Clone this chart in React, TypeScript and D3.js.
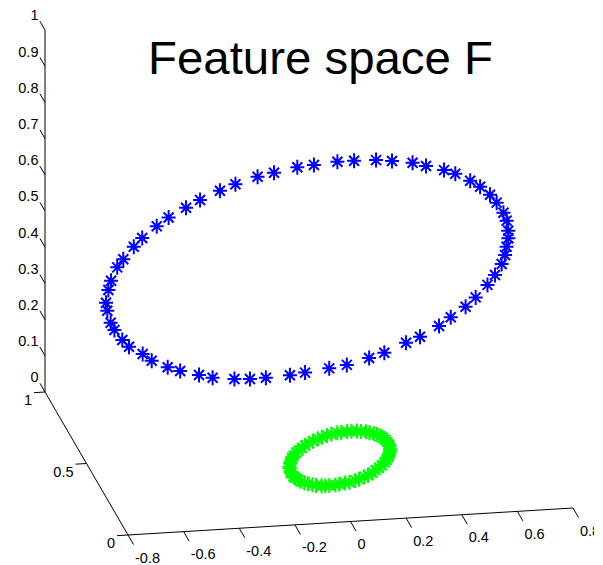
import React from "react";
import * as d3 from "d3";

const WIDTH = 603;
const HEIGHT = 565;

// blue ring (outer circle mapped into feature space)
const blueX = [-0.185, -0.263, -0.318, -0.389, -0.437, -0.497, -0.538, -0.588, -0.62, -0.657, -0.676, -0.697, -0.708, -0.712, -0.709, -0.7, -0.684, -0.655, -0.631, -0.588, -0.554, -0.493, -0.451, -0.383, -0.332, -0.257, -0.203, -0.121, -0.064, -0.007, 0.078, 0.13, 0.213, 0.273, 0.346, 0.394, 0.46, 0.503, 0.558, 0.589, 0.629, 0.653, 0.679, 0.693, 0.702, 0.702, 0.696, 0.691, 0.68, 0.66, 0.637, 0.598, 0.563, 0.515, 0.47, 0.406, 0.359, 0.287, 0.233, 0.155, 0.095, 0.015, -0.045, -0.127];
const blueY = [0.021, 0.04, 0.054, 0.083, 0.109, 0.147, 0.179, 0.221, 0.257, 0.308, 0.346, 0.402, 0.438, 0.499, 0.541, 0.6, 0.638, 0.695, 0.73, 0.779, 0.812, 0.852, 0.884, 0.919, 0.94, 0.964, 0.981, 0.993, 0.997, 0.996, 0.991, 0.983, 0.97, 0.959, 0.935, 0.913, 0.872, 0.848, 0.803, 0.766, 0.721, 0.68, 0.625, 0.581, 0.531, 0.49, 0.452, 0.413, 0.378, 0.33, 0.292, 0.243, 0.206, 0.164, 0.133, 0.098, 0.076, 0.052, 0.033, 0.019, 0.01, 0.007, 0.007, 0.015];
const blueZ = [0.979, 0.96, 0.946, 0.917, 0.891, 0.853, 0.821, 0.78, 0.743, 0.692, 0.654, 0.598, 0.562, 0.501, 0.459, 0.4, 0.362, 0.305, 0.27, 0.221, 0.188, 0.149, 0.116, 0.081, 0.06, 0.036, 0.019, 0.007, 0.003, 0.004, 0.009, 0.017, 0.03, 0.041, 0.066, 0.087, 0.128, 0.152, 0.197, 0.234, 0.279, 0.32, 0.375, 0.419, 0.469, 0.51, 0.548, 0.587, 0.622, 0.67, 0.708, 0.757, 0.795, 0.836, 0.867, 0.903, 0.924, 0.948, 0.967, 0.981, 0.99, 0.993, 0.993, 0.985];

// green ring (inner circle mapped into feature space)
const greenX = [-0.046, -0.066, -0.08, -0.097, -0.109, -0.124, -0.135, -0.147, -0.155, -0.164, -0.169, -0.174, -0.177, -0.178, -0.177, -0.175, -0.171, -0.164, -0.158, -0.147, -0.139, -0.123, -0.113, -0.096, -0.083, -0.064, -0.051, -0.03, -0.016, -0.002, 0.02, 0.033, 0.053, 0.068, 0.087, 0.099, 0.115, 0.126, 0.14, 0.147, 0.157, 0.163, 0.17, 0.173, 0.176, 0.176, 0.174, 0.173, 0.17, 0.165, 0.159, 0.15, 0.141, 0.129, 0.118, 0.102, 0.09, 0.072, 0.058, 0.039, 0.024, 0.004, -0.011, -0.032];
const greenY = [0.005, 0.01, 0.014, 0.021, 0.027, 0.037, 0.045, 0.055, 0.064, 0.077, 0.087, 0.101, 0.11, 0.125, 0.135, 0.15, 0.16, 0.174, 0.183, 0.195, 0.203, 0.213, 0.221, 0.23, 0.235, 0.241, 0.245, 0.248, 0.249, 0.249, 0.248, 0.246, 0.243, 0.24, 0.234, 0.228, 0.218, 0.212, 0.201, 0.192, 0.18, 0.17, 0.156, 0.145, 0.133, 0.123, 0.113, 0.103, 0.095, 0.083, 0.073, 0.061, 0.052, 0.041, 0.033, 0.025, 0.019, 0.013, 0.008, 0.005, 0.002, 0.002, 0.002, 0.004];
const greenZ = [0.245, 0.24, 0.236, 0.229, 0.223, 0.213, 0.205, 0.195, 0.186, 0.173, 0.164, 0.15, 0.141, 0.125, 0.115, 0.1, 0.091, 0.076, 0.068, 0.055, 0.047, 0.037, 0.029, 0.02, 0.015, 0.009, 0.005, 0.002, 0.001, 0.001, 0.002, 0.004, 0.008, 0.01, 0.017, 0.022, 0.032, 0.038, 0.049, 0.059, 0.07, 0.08, 0.094, 0.105, 0.117, 0.128, 0.137, 0.147, 0.156, 0.168, 0.177, 0.189, 0.199, 0.209, 0.217, 0.226, 0.231, 0.237, 0.242, 0.245, 0.248, 0.248, 0.248, 0.246];

const xTicks = [-0.8, -0.6, -0.4, -0.2, 0, 0.2, 0.4, 0.6, 0.8];
const yTicks = [0, 0.5, 1];
const zTicks = [0, 0.1, 0.2, 0.3, 0.4, 0.5, 0.6, 0.7, 0.8, 0.9, 1];

// orthographic view: box corner and the screen vectors of each full axis
const ORIGIN = [128, 535];
const EX = [445, -27];
const EY = [-83, -143];
const EZ = [0, -362];

const fx = d3.scaleLinear().domain([-0.8, 0.8]).range([0, 1]);
const fy = d3.scaleLinear().domain([0, 1]).range([0, 1]);
const fz = d3.scaleLinear().domain([0, 1]).range([0, 1]);

const project = (x: number, y: number, z: number) => {
  const a = fx(x), b = fy(y), c = fz(z);
  return [
    ORIGIN[0] + a * EX[0] + b * EY[0] + c * EZ[0],
    ORIGIN[1] + a * EX[1] + b * EY[1] + c * EZ[1]
  ];
};

const unit = (v: number[]) => {
  const l = Math.hypot(v[0], v[1]);
  return [v[0] / l, v[1] / l];
};

const FONT = "'Liberation Sans', Arial, Helvetica, sans-serif";
const ASTERISK = "M0,-7.5V7.5M-7,0H7M-5,-5L5,5M-5,5L5,-5";

const fmt = (v: number) => String(v);

export default function App() {
  const xDir = unit([-EY[0], -EY[1]]);
  const yDir = unit([-EX[0], -EX[1]]);
  const zDir = unit(EY);

  const xa0 = project(-0.8, 0, 0), xa1 = project(0.8, 0, 0);
  const ya1 = project(-0.8, 1, 0);
  const za1 = project(-0.8, 1, 1);

  const blue = blueX.map((x, i) => project(x, blueY[i], blueZ[i]));
  const green = greenX.map((x, i) => project(x, greenY[i], greenZ[i]));

  return (
    <div style={{ position: "absolute", left: 0, top: 0 }}>
      <svg width={WIDTH} height={HEIGHT} style={{ display: "block", background: "#fff" }}>
        <defs>
          <clipPath id="fig">
            <rect width={594} height={HEIGHT} />
          </clipPath>
        </defs>
        <rect width={WIDTH} height={HEIGHT} fill="#fff" />
        <g clipPath="url(#fig)">
          <g stroke="#000" strokeWidth={1} fill="none">
            <line x1={xa0[0]} y1={xa0[1]} x2={xa1[0]} y2={xa1[1]} />
            <line x1={xa0[0]} y1={xa0[1]} x2={ya1[0]} y2={ya1[1]} />
            <line x1={ya1[0]} y1={ya1[1]} x2={za1[0]} y2={za1[1]} />
          </g>

          <g fontFamily={FONT} fontSize={14.5} fill="#000">
            {xTicks.map(t => {
              const p = project(t, 0, 0);
              const e = [p[0] + xDir[0] * 11, p[1] + xDir[1] * 11];
              return (
                <g key={"x" + t}>
                  <line x1={p[0]} y1={p[1]} x2={e[0]} y2={e[1]} stroke="#000" />
                  <text x={e[0] + 1.5} y={e[1] + 18} textAnchor="start">{fmt(t)}</text>
                </g>
              );
            })}
            {yTicks.map(t => {
              const p = project(-0.8, t, 0);
              const e = [p[0] + yDir[0] * 11, p[1] + yDir[1] * 11];
              return (
                <g key={"y" + t}>
                  <line x1={p[0]} y1={p[1]} x2={e[0]} y2={e[1]} stroke="#000" />
                  <text x={e[0] - 2} y={e[1] + 12.5} textAnchor="end">{fmt(t)}</text>
                </g>
              );
            })}
            {zTicks.map(t => {
              const p = project(-0.8, 1, t);
              const e = [p[0] + zDir[0] * 10, p[1] + zDir[1] * 10];
              return (
                <g key={"z" + t}>
                  <line x1={p[0]} y1={p[1]} x2={e[0]} y2={e[1]} stroke="#000" />
                  <text x={e[0] - 1.5} y={e[1] - 1} textAnchor="end">{fmt(t)}</text>
                </g>
              );
            })}
          </g>

          <g stroke="#0000ff" strokeWidth={2} fill="none">
            {blue.map((p, i) => (
              <path key={i} d={ASTERISK} transform={`translate(${p[0]},${p[1]})`} />
            ))}
          </g>
          <g stroke="#00ff00" strokeWidth={2} fill="none">
            {green.map((p, i) => (
              <path key={i} d={ASTERISK} transform={`translate(${p[0]},${p[1]})`} />
            ))}
          </g>

          <text x={320.5} y={74} textAnchor="middle" fontFamily={FONT} fontSize={46}
            textLength={345} lengthAdjust="spacingAndGlyphs" fill="#000">
            Feature space F
          </text>
        </g>
      </svg>
    </div>
  );
}
